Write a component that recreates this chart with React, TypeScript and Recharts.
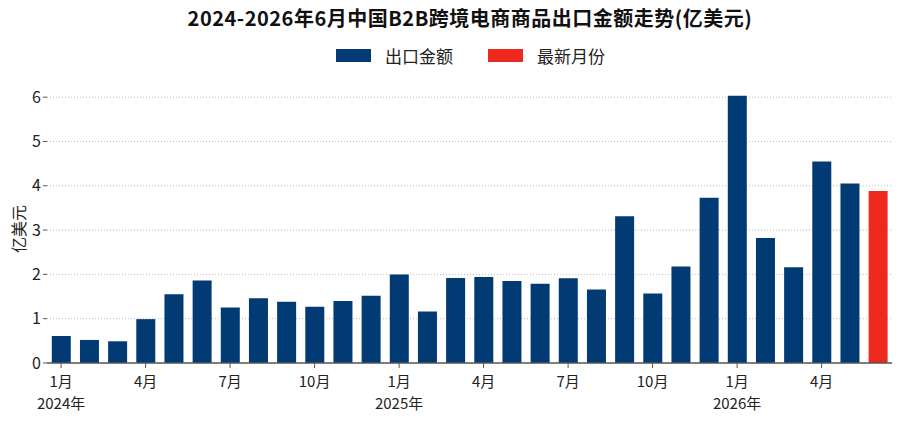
import React from 'react';
import { BarChart, Bar, XAxis, YAxis, CartesianGrid } from 'recharts';

// 月份（2024年1月 ~ 2026年6月）
const months = [
  '2024-01', '2024-02', '2024-03', '2024-04', '2024-05', '2024-06',
  '2024-07', '2024-08', '2024-09', '2024-10', '2024-11', '2024-12',
  '2025-01', '2025-02', '2025-03', '2025-04', '2025-05', '2025-06',
  '2025-07', '2025-08', '2025-09', '2025-10', '2025-11', '2025-12',
  '2026-01', '2026-02', '2026-03', '2026-04', '2026-05', '2026-06',
];

// 出口金额 (亿美元)
const exportValues = [
  0.61, 0.52, 0.49, 0.99, 1.55, 1.86, 1.25, 1.46, 1.38, 1.27, 1.40, 1.52,
  2.00, 1.16, 1.92, 1.94, 1.85, 1.79, 1.91, 1.66, 3.31, 1.57, 2.18, 3.73,
  6.03, 2.82, 2.16, 4.55, 4.05, 3.88,
];

const yTicks = [0, 1, 2, 3, 4, 5, 6];
const gridValues = [1, 2, 3, 4, 5, 6];

const BLUE = '#023a73';
const RED = '#ee2a1e';
const FONT = '"Noto Sans CJK SC", "Noto Sans", sans-serif';

const lastIdx = exportValues.length - 1;
const data = months.map((m, i) => ({
  month: m,
  normal: i === lastIdx ? null : exportValues[i],
  latest: i === lastIdx ? exportValues[i] : null,
}));

function MonthTick(props: any) {
  const { x, y, payload } = props;
  const [yr, mo] = String(payload.value).split('-');
  const showYear = mo === '01';
  return (
    <g transform={`translate(${x},${y})`}>
      <text x={0} y={17} textAnchor="middle" fontSize={15} fill="#222" fontFamily={FONT}>
        {Number(mo)}月
      </text>
      {showYear && (
        <text x={0} y={39} textAnchor="middle" fontSize={15} fill="#222" fontFamily={FONT}>
          {yr}年
        </text>
      )}
    </g>
  );
}

export default function App() {
  return (
    <div style={{ position: 'absolute', left: 0, top: 0, width: 900, height: 421, background: '#fff', fontFamily: FONT }}>
      <div style={{ position: 'absolute', top: 3, left: 20, width: 900, textAlign: 'center', fontSize: 20, fontWeight: 'bold', color: '#111', letterSpacing: 0.5 }}>
        2024-2026年6月中国B2B跨境电商商品出口金额走势(亿美元)
      </div>
      {/* 图例 */}
      <div style={{ position: 'absolute', top: 49, left: 336, width: 35, height: 13, background: BLUE }} />
      <div style={{ position: 'absolute', top: 45, left: 385, fontSize: 17, color: '#222', lineHeight: '22px' }}>出口金额</div>
      <div style={{ position: 'absolute', top: 49, left: 488, width: 35, height: 13, background: RED }} />
      <div style={{ position: 'absolute', top: 45, left: 537, fontSize: 17, color: '#222', lineHeight: '22px' }}>最新月份</div>

      <div style={{ position: 'absolute', left: 18, top: 229, transform: 'translate(-50%,-50%) rotate(-90deg)', fontSize: 16, color: '#222', whiteSpace: 'nowrap' }}>
        亿美元
      </div>
      <BarChart
        width={900}
        height={421}
        data={data}
        margin={{ top: 75, right: 8, bottom: 0, left: 0 }}
        barCategoryGap="17%"
      >
        <CartesianGrid vertical={false} horizontalValues={gridValues} stroke="#bbb" strokeDasharray="1 2" />
        <XAxis
          dataKey="month"
          interval={2}
          tick={<MonthTick />}
          tickSize={5}
          axisLine={{ stroke: '#555', strokeWidth: 1.5 }}
          tickLine={{ stroke: '#555' }}
          height={58}
        />
        <YAxis
          domain={[0, 6.5]}
          ticks={yTicks}
          width={47}
          axisLine={false}
          tickLine={{ stroke: '#555' }}
          tickSize={4}
          tick={{ fontSize: 16, fill: '#222', fontFamily: FONT }}
        />
        <Bar dataKey="normal" name="出口金额" stackId="a" fill={BLUE} isAnimationActive={false} />
        <Bar dataKey="latest" name="最新月份" stackId="a" fill={RED} isAnimationActive={false} />
      </BarChart>
    </div>
  );
}
